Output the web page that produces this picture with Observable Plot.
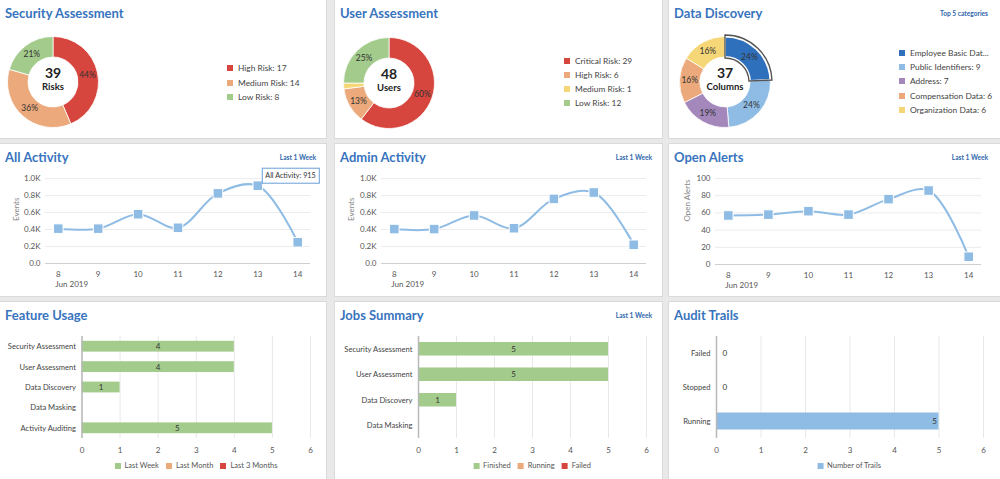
<!DOCTYPE html>
<html><head><meta charset="utf-8">
<script src="https://cdn.jsdelivr.net/npm/d3@7"></script>
<script src="https://cdn.jsdelivr.net/npm/@observablehq/plot@0.6"></script>
<style>
body{margin:0;background:#e9e9e9;font-family:Lato,"Open Sans",sans-serif;}
#dash{position:relative;width:1000px;height:479px;overflow:hidden;}
.panel{position:absolute;background:#fff;box-shadow:0 0 0 1px #dadada;overflow:hidden;}
.title{position:absolute;left:5px;top:7px;font-weight:700;font-size:13px;line-height:13px;color:#3874be;white-space:nowrap;}
.sub{position:absolute;top:10px;font-weight:700;font-size:6.6px;line-height:7px;color:#2f66ab;white-space:nowrap;}
.legend{position:absolute;font-size:8.4px;color:#444;white-space:nowrap;}
.legend .item{display:flex;align-items:center;}
.legend .sw{width:6px;height:6px;margin-right:5px;flex:none;}
.hleg{position:absolute;display:flex;transform:translateX(-50%);font-size:7.5px;color:#555;white-space:nowrap;}
.hleg .item{display:flex;align-items:center;margin:0 3.5px;}
.hleg .sw{width:6px;height:6px;margin-right:4px;}
.panel svg{position:absolute;}
</style></head><body><div id="dash"></div>
<script>
// ---------- data ----------
const securityLabels = ["High Risk", "Medium Risk", "Low Risk"];
const securityValues = [17, 14, 8];
const userLabels = ["Critical Risk", "High Risk", "Medium Risk", "Low Risk"];
const userValues = [29, 6, 1, 12];
const discoveryLabels = ["Employee Basic Data", "Public Identifiers", "Address", "Compensation Data", "Organization Data"];
const discoveryValues = [9, 9, 7, 6, 6];

const days = [8, 9, 10, 11, 12, 13, 14];
const allActivity = [410, 410, 580, 420, 825, 915, 250];
const adminActivity = [405, 405, 565, 415, 760, 835, 220];
const openAlerts = [57, 58, 62, 58, 76, 86, 9];
const activityTicks = [0, 200, 400, 600, 800, 1000];
const alertTicks = [0, 20, 40, 60, 80, 100];

const featureCategories = ["Security Assessment", "User Assessment", "Data Discovery", "Data Masking", "Activity Auditing"];
const featureSeries = ["Last Week", "Last Month", "Last 3 Months"];
const featureLastWeek = [4, 4, 1, 0, 5];
const featureLastMonth = [0, 0, 0, 0, 0];
const featureLast3Months = [0, 0, 0, 0, 0];

const jobCategories = ["Security Assessment", "User Assessment", "Data Discovery", "Data Masking"];
const jobSeries = ["Finished", "Running", "Failed"];
const jobFinished = [5, 5, 1, 0];
const jobRunning = [0, 0, 0, 0];
const jobFailed = [0, 0, 0, 0];

const auditCategories = ["Failed", "Stopped", "Running"];
const auditSeries = ["Number of Trails"];
const auditTrails = [0, 0, 5];
const countTicks = [0, 1, 2, 3, 4, 5, 6];

// ---------- colours ----------
const RED = "#d6463e", ORANGE = "#eba97c", GREEN = "#a3cb8b", YELLOW = "#f6d778",
      DBLUE = "#2f70bd", LBLUE = "#8fbce4", PURPLE = "#a488bb";
const FONT = "Lato, 'Open Sans', sans-serif";

const dash = document.getElementById("dash");
function panel(left, top, width, height, title, sub, subRight) {
  const p = document.createElement("div");
  p.className = "panel";
  Object.assign(p.style, {left: left + "px", top: top + "px", width: width + "px", height: height + "px"});
  const t = document.createElement("div"); t.className = "title"; t.textContent = title; p.appendChild(t);
  if (sub) { const s = document.createElement("div"); s.className = "sub"; s.textContent = sub; s.style.right = (subRight ?? 10) + "px"; p.appendChild(s); }
  dash.appendChild(p);
  return p;
}
function place(p, node, left, top) { node.style.left = left + "px"; node.style.top = top + "px"; p.appendChild(node); return node; }
function vLegend(p, items, colors, left, top, rowH) {
  const d = document.createElement("div"); d.className = "legend";
  items.forEach((txt, i) => {
    const it = document.createElement("div"); it.className = "item"; it.style.height = rowH + "px";
    it.innerHTML = `<span class="sw" style="background:${colors[i]}"></span><span>${txt}</span>`;
    d.appendChild(it);
  });
  place(p, d, left, top);
}
function hLegend(p, items, colors, centerX, centerY) {
  const d = document.createElement("div"); d.className = "hleg";
  items.forEach((txt, i) => {
    const it = document.createElement("div"); it.className = "item";
    it.innerHTML = `<span class="sw" style="background:${colors[i]}"></span><span>${txt}</span>`;
    d.appendChild(it);
  });
  d.style.left = centerX + "px"; d.style.top = (centerY - 6) + "px"; d.style.lineHeight = "12px";
  p.appendChild(d);
}
const trunc = s => s.length > 21 ? s.slice(0, 18) + "..." : s;

// ---------- donut ----------
function donutPlot(labels, values, colors, unit, highlight) {
  const data = labels.map((label, i) => ({label, value: values[i]}));
  const total = d3.sum(values);
  return Plot.plot({
    width: 100, height: 100, margin: 0,
    style: {fontFamily: FONT, background: "transparent"},
    color: {domain: labels, range: colors},
    marks: [
      Plot.text(data, {
        text: "label", fill: "label", frameAnchor: "middle",
        render(index, scales, values, dims) {
          const cx = (dims.marginLeft + dims.width - dims.marginRight) / 2;
          const cy = (dims.marginTop + dims.height - dims.marginBottom) / 2;
          const inner = 25, outer = 45.5;
          const arcs = d3.pie().sort(null).value(i => data[i].value)(index);
          const arc = d3.arc().innerRadius(inner).outerRadius(outer);
          const g = d3.create("svg:g").attr("transform", `translate(${cx},${cy})`).attr("text-anchor", "middle");
          g.selectAll("path.slice").data(arcs).join("path")
            .attr("d", arc).attr("fill", a => values.fill[a.data])
            .attr("stroke", "#fff").attr("stroke-width", a => a.data === highlight ? 2 : 0.8);
          if (highlight != null) {
            const a = arcs.find(a => a.data === highlight);
            g.append("path").attr("d", d3.arc().innerRadius(inner - 1).outerRadius(outer + 1.5)(a))
              .attr("fill", "none").attr("stroke", "#555").attr("stroke-width", 1.4);
          }
          g.selectAll("text.pct").data(arcs.filter(a => data[a.data].value / total >= 0.05)).join("text")
            .attr("transform", a => `translate(${arc.centroid(a)})`)
            .attr("dy", "0.35em")
            .attr("font-size", 8.5).attr("fill", "#333")
            .text(a => Math.round(data[a.data].value / total * 100) + "%");
          g.append("text").attr("y", -4.5)
            .attr("font-size", 14).attr("font-weight", 700).attr("fill", "#222").text(total);
          g.append("text").attr("y", 8)
            .attr("font-size", 9.5).attr("font-weight", 700).attr("fill", "#222").text(unit);
          return g.node();
        }
      })
    ]
  });
}

// ---------- line ----------
function linePlot(values, {width, height, mL, mR, mT, mB, ticks, fmt, label, labelDx, tip}) {
  const data = days.map((day, i) => ({day, value: values[i]}));
  const marks = [
    Plot.gridY(ticks, {stroke: "#ececec", strokeOpacity: 1}),
    Plot.ruleY([0], {stroke: "#cfcfcf"}),
    Plot.axisY(ticks, {tickSize: 0, tickPadding: 5, tickFormat: fmt, label: null, fill: "#555"}),
    Plot.axisX({tickSize: 0, tickPadding: 8, label: null, fill: "#555"}),
    Plot.text([days[0]], {x: d => d, text: () => "Jun 2019", frameAnchor: "bottom", textAnchor: "start", dx: -3, dy: 23.5, fill: "#555"}),
    Plot.text([label], {frameAnchor: "left", rotate: -90, dx: labelDx, fill: "#888"}),
    Plot.line(data, {x: "day", y: "value", curve: "catmull-rom", stroke: LBLUE, strokeWidth: 2}),
    Plot.dot(data, {x: "day", y: "value", symbol: "square", r: 5.4, fill: LBLUE, stroke: "#fff", strokeWidth: 1})
  ];
  if (tip) {
    const i = tip.index;
    marks.push(Plot.text([{day: days[i], value: values[i]}], {
      x: "day", y: "value", text: d => `${tip.name}:  ${d.value}`,
      render(index, scales, v) {
        const g = d3.create("svg:g").attr("text-anchor", "start");
        for (const j of index) {
          const x = v.x[j], y = v.y[j];
          g.append("rect").attr("x", x + 5).attr("y", y - 17).attr("width", 57).attr("height", 15)
            .attr("fill", "#fff").attr("stroke", "#77a8db").attr("stroke-width", 1.1);
          g.append("text").attr("x", x + 8).attr("y", y - 6.8).attr("font-size", 7.2)
            .attr("font-weight", 400).attr("fill", "#333").attr("stroke", "none")
            .text(`${tip.name}: ${values[i]}`);
        }
        return g.node();
      }
    }));
  }
  return Plot.plot({
    width, height, marginLeft: mL, marginRight: mR, marginTop: mT, marginBottom: mB,
    style: {fontFamily: FONT, fontSize: "8px", background: "transparent", overflow: "visible"},
    x: {type: "point", domain: days, padding: 0.32, round: false},
    y: {domain: [ticks[0], ticks[ticks.length - 1]]},
    marks
  });
}

// ---------- horizontal bars ----------
function barPlot(categories, series, seriesValues, colors, {width, height, mL, mR, padding, zeroLabels}) {
  const rows = [];
  series.forEach((s, k) => categories.forEach((c, i) => rows.push({cat: c, series: s, value: seriesValues[k][i]})));
  const main = categories.map((c, i) => ({cat: c, value: seriesValues[0][i]}));
  const marks = [
    Plot.gridX(countTicks, {stroke: "#e8e8e8", strokeOpacity: 1}),
    Plot.axisX(countTicks, {tickSize: 0, tickPadding: 9, label: null, fill: "#555"}),
    Plot.axisY({tickSize: 0, tickPadding: 6, label: null, fill: "#444", fontSize: 7.6}),
    Plot.barX(rows, {x: "value", y: "cat", fill: "series"}),
    Plot.ruleX([0], {stroke: "#b8b8b8", strokeWidth: 1.5})
  ];
  if (zeroLabels) {
    marks.push(Plot.text(main.filter(d => d.value === 0), {x: "value", y: "cat", text: "value", textAnchor: "start", dx: 6, fill: "#333"}));
    marks.push(Plot.text(main.filter(d => d.value > 0), {x: "value", y: "cat", text: "value", textAnchor: "end", dx: -2, fill: "#333"}));
  } else {
    marks.push(Plot.text(main.filter(d => d.value > 0), {x: d => d.value / 2, y: "cat", text: "value", fill: "#333"}));
  }
  return Plot.plot({
    width, height, marginLeft: mL, marginRight: mR, marginTop: 34, marginBottom: height - 136,
    style: {fontFamily: FONT, fontSize: "8px", background: "transparent", overflow: "visible"},
    x: {domain: [0, 6]},
    y: {domain: categories, paddingInner: padding, paddingOuter: padding / 2, round: false},
    color: {domain: series, range: colors},
    marks
  });
}

// ---------- row 1 ----------
const p1 = panel(0, 0, 326, 138, "Security Assessment");
place(p1, donutPlot(securityLabels, securityValues, [RED, ORANGE, GREEN], "Risks"), 3, 32);
vLegend(p1, securityLabels.map((l, i) => `${l}: ${securityValues[i]}`), [RED, ORANGE, GREEN], 227, 61, 14.5);

const p2 = panel(335, 0, 327, 138, "User Assessment");
place(p2, donutPlot(userLabels, userValues, [RED, ORANGE, YELLOW, GREEN], "Users"), 4, 33);
vLegend(p2, userLabels.map((l, i) => `${l}: ${userValues[i]}`), [RED, ORANGE, YELLOW, GREEN], 229, 54, 14);

const p3 = panel(669, 0, 331, 138, "Data Discovery", "Top 5 categories", 12);
place(p3, donutPlot(discoveryLabels, discoveryValues, [DBLUE, LBLUE, PURPLE, ORANGE, YELLOW], "Columns", 0), 6, 32);
vLegend(p3, discoveryLabels.map((l, i) => trunc(`${l}: ${discoveryValues[i]}`)), [DBLUE, LBLUE, PURPLE, ORANGE, YELLOW], 230, 46, 14.2);

// ---------- row 2 ----------
const kfmt = d => d === 0 ? "0.0" : (d / 1000).toFixed(1) + "K";
const p4 = panel(0, 144, 326, 152, "All Activity", "Last 1 Week", 10);
place(p4, linePlot(allActivity, {width: 326, height: 152, mL: 45, mR: 16, mT: 34, mB: 33, ticks: activityTicks, fmt: kfmt, label: "Events", labelDx: -29, tip: {index: 5, name: "All Activity"}}), 0, 0);

const p5 = panel(335, 144, 327, 152, "Admin Activity", "Last 1 Week", 10);
place(p5, linePlot(adminActivity, {width: 327, height: 152, mL: 46, mR: 16, mT: 34, mB: 33, ticks: activityTicks, fmt: kfmt, label: "Events", labelDx: -30}), 0, 0);

const p6 = panel(669, 144, 331, 152, "Open Alerts", "Last 1 Week", 12);
place(p6, linePlot(openAlerts, {width: 331, height: 152, mL: 46, mR: 19, mT: 34, mB: 32, ticks: alertTicks, fmt: d => d, label: "Open Alerts", labelDx: -28}), 0, 0);

// ---------- row 3 ----------
const p7 = panel(0, 302, 326, 177, "Feature Usage");
place(p7, barPlot(featureCategories, featureSeries, [featureLastWeek, featureLastMonth, featureLast3Months], [GREEN, ORANGE, RED], {width: 326, height: 177, mL: 81.5, mR: 16, padding: 0.47}), 0, 0);
hLegend(p7, featureSeries, [GREEN, ORANGE, RED], 196, 164);

const p8 = panel(335, 302, 327, 177, "Jobs Summary", "Last 1 Week", 10);
place(p8, barPlot(jobCategories, jobSeries, [jobFinished, jobRunning, jobFailed], [GREEN, ORANGE, RED], {width: 327, height: 177, mL: 83, mR: 16, padding: 0.47}), 0, 0);
hLegend(p8, jobSeries, [GREEN, ORANGE, RED], 197, 164);

const p9 = panel(669, 302, 331, 177, "Audit Trails");
place(p9, barPlot(auditCategories, auditSeries, [auditTrails], [LBLUE], {width: 331, height: 177, mL: 47, mR: 17, padding: 0.5, zeroLabels: true}), 0, 0);
hLegend(p9, auditSeries, [LBLUE], 180, 164);
</script></body></html>
